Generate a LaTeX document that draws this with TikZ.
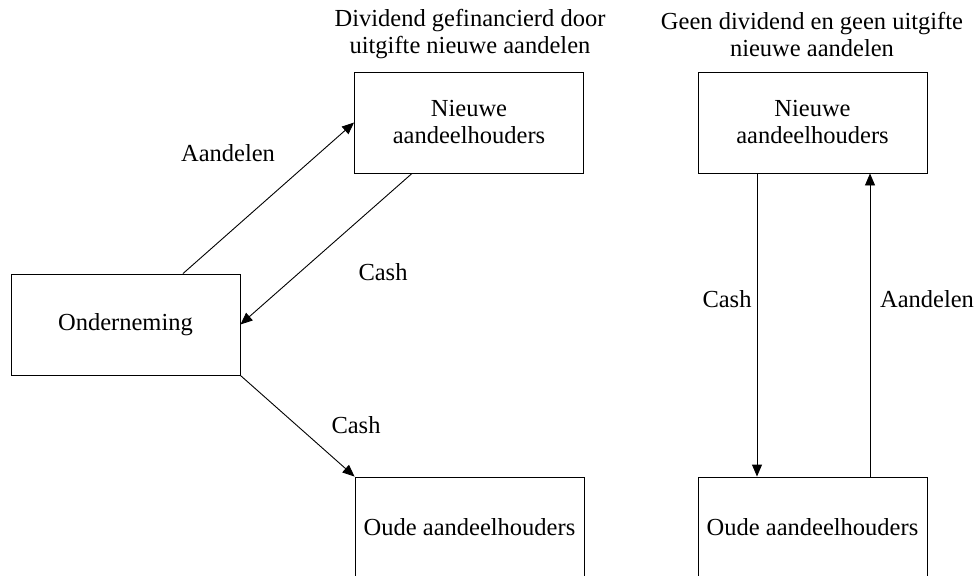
\documentclass[tikz,border=0pt]{standalone}
\usepackage{fontspec}
\setmainfont{Liberation Serif}
\usetikzlibrary{arrows.meta,calc}
\begin{document}
\begin{tikzpicture}[x=1pt,y=-1pt,
  font=\fontsize{24.5}{27}\selectfont,
  box/.style={draw=black,line width=0.9pt,minimum width=229pt,minimum height=101pt,inner sep=0pt,align=center},
  flow/.style={draw=black,line width=0.9pt,-{Triangle[length=12pt,width=10pt]}},
  lbl/.style={inner sep=0pt,align=center}]
\useasboundingbox (0,0) rectangle (976,575);
\clip (0,0) rectangle (976,575);
\node[box] (ond) at (125.5,324.5) {Onderneming};
\node[box] (nl) at (469,122.5) {Nieuwe\\aandeelhouders};
\node[box] (ol) at (469.5,527.5) {Oude aandeelhouders};
\node[box] (nr) at (812.5,122.5) {Nieuwe\\aandeelhouders};
\node[box] (or) at (812.5,527.5) {Oude aandeelhouders};
\node[lbl] (t1) at (470,34) {Dividend gefinancierd door\\uitgifte nieuwe aandelen};
\node[lbl] (t2) at (812,34) {Geen dividend en geen uitgifte\\nieuwe aandelen};
\draw[flow] ([xshift=57.5pt]ond.north) -- (nl.west);
\draw[flow] ([xshift=-57pt]nl.south) -- (ond.east);
\draw[flow] (ond.south east) -- (ol.north west);
\draw[flow] ([xshift=-55.5pt]nr.south) -- ([xshift=-55.5pt]or.north);
\draw[flow] ([xshift=57.5pt]or.north) -- ([xshift=57.5pt]nr.south);
\node[lbl] (la1) at (228,153) {Aandelen};
\node[lbl] (lc1) at (383,272) {Cash};
\node[lbl] (lc2) at (356,425) {Cash};
\node[lbl] (lc3) at (727,299) {Cash};
\node[lbl] (la2) at (927,299) {Aandelen};
\end{tikzpicture}
\end{document}
